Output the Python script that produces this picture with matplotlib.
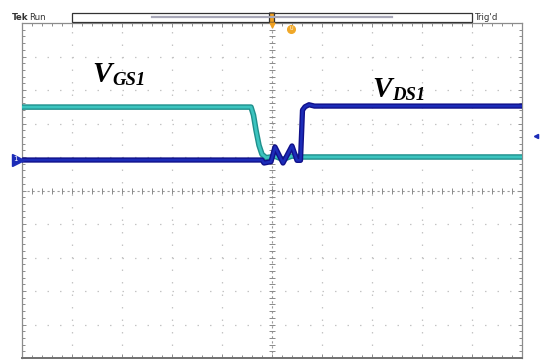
import numpy as np
import matplotlib
matplotlib.use("Agg")
import matplotlib.pyplot as plt
from matplotlib.patches import Rectangle, FancyBboxPatch

# ---- data (screen divisions: x 0..10, y 0..10) ----
vgs_x = [0.0, 4.58, 4.63, 4.68, 4.74, 4.80, 4.88, 5.06, 5.22, 5.40, 5.60, 5.70, 10.0]
vgs_y = [7.49, 7.49, 7.25, 6.80, 6.35, 6.08, 5.98, 6.02, 5.93, 6.03, 6.00, 6.00, 6.00]

vds_x = [0.0, 4.80, 4.84, 4.98, 5.06, 5.22, 5.40, 5.50, 5.57, 5.61, 5.66, 5.74, 5.85, 10.0]
vds_y = [5.91, 5.91, 5.82, 5.86, 6.30, 5.82, 6.33, 5.90, 5.90, 7.40, 7.50, 7.56, 7.52, 7.52]

label_gs = ("V", "GS1")
label_ds = ("V", "DS1")
label_gs_pos = (1.40, 8.24)
label_ds_pos = (7.00, 7.79)

top_left_text = ("Tek", "Run")
top_right_text = "Trig'd"

W, H = 541, 362
fig = plt.figure(figsize=(W / 100, H / 100), dpi=100)
fig.patch.set_facecolor("white")

x0, x1, ytop, ybot = 22, 522, 23, 358
ax = fig.add_axes([x0 / W, 1 - ybot / H, (x1 - x0) / W, (ybot - ytop) / H])
ax.set_xlim(0, 10)
ax.set_ylim(0, 10)
ax.set_facecolor("white")

# grid
for i in range(1, 10):
    if i == 5:
        continue
    ax.plot([i, i], [0, 10], color="#c4c4c4", lw=0.9, ls=(0, (1.2, 8.8)), zorder=1)
    ax.plot([0, 10], [i, i], color="#c4c4c4", lw=0.9, ls=(0, (1.2, 8.8)), zorder=1)
# center lines
ax.plot([5, 5], [0, 10], color="#9a9a9a", lw=0.8, ls=(0, (2, 2.5)), zorder=1)
ax.plot([0, 10], [5, 5], color="#9a9a9a", lw=0.8, ls=(0, (2, 2.5)), zorder=1)
tk = np.arange(0.2, 10, 0.2)
ax.plot(tk, np.full_like(tk, 5), ls="none", marker="|", ms=4, mew=0.7, color="#8a8a8a", zorder=1)
ax.plot(np.full_like(tk, 5), tk, ls="none", marker="_", ms=4, mew=0.7, color="#8a8a8a", zorder=1)

for s in ax.spines.values():
    s.set_color("#8c8c8c")
    s.set_linewidth(0.9)
ax.spines["bottom"].set_linewidth(1.4)
ax.spines["bottom"].set_color("#707070")
ax.set_xticks(np.arange(0, 10.01, 1))
ax.set_yticks(np.arange(0, 10.01, 1))
ax.set_xticks(np.arange(0, 10.01, 0.2), minor=True)
ax.set_yticks(np.arange(0, 10.01, 0.2), minor=True)
ax.tick_params(which="both", direction="in", top=True, right=True, labelbottom=False,
               labelleft=False, color="#8c8c8c", width=0.7)
ax.tick_params(which="major", length=3)
ax.tick_params(which="minor", length=2)

# traces
ax.plot(vgs_x, vgs_y, color="#1f8f8c", lw=4.0, solid_joinstyle="round", zorder=3)
ax.plot(vgs_x, vgs_y, color="#3cc4bf", lw=2.0, solid_joinstyle="round", zorder=3)
ax.plot(vds_x, vds_y, color="#10108a", lw=3.8, solid_joinstyle="round", zorder=4)
ax.plot(vds_x, vds_y, color="#1c2cb8", lw=1.8, solid_joinstyle="round", zorder=4)

# labels
def vlabel(pos, parts):
    ax.text(pos[0], pos[1], parts[0], fontsize=21, family="Liberation Serif",
            style="italic", weight="bold", color="black", zorder=5, va="baseline")
    ax.annotate(parts[1], xy=(pos[0], pos[1]), xytext=(14.4, -2.2), textcoords="offset points",
                fontsize=13.5, family="Liberation Serif", style="italic", weight="bold",
                va="baseline", zorder=5)

vlabel(label_gs_pos, label_gs)
vlabel(label_ds_pos, label_ds)

# channel marker and trigger level marker
ax.plot([-0.09], [vds_y[0]], marker=">", ms=8, color="#1c2cb8", clip_on=False, zorder=6)
ax.text(-0.13, vds_y[0] + 0.02, "1", fontsize=5, color="white", ha="center", va="center",
        clip_on=False, zorder=7)
ax.plot([10.28], [6.62], marker="<", ms=3, color="#1c2cb8", clip_on=False, zorder=6)

# top status bar
def fx(px):
    return px / W

def fy(py):
    return 1 - py / H

fig.text(fx(12), fy(19.5), top_left_text[0], fontsize=6.2, weight="bold", color="#333333",
         va="baseline", family="DejaVu Sans")
fig.text(fx(29), fy(19.5), top_left_text[1], fontsize=6.2, color="#333333", va="baseline",
         family="DejaVu Sans")
fig.text(fx(475), fy(19.5), top_right_text, fontsize=6.2, color="#333333", va="baseline",
         family="DejaVu Sans")
fig.patches.append(Rectangle((fx(72), fy(22)), fx(472) - fx(72), fy(13) - fy(22),
                             transform=fig.transFigure, fill=False, ec="#333333", lw=0.9))
fig.add_artist(plt.Line2D([fx(152), fx(392)], [fy(16.5), fy(16.5)], transform=fig.transFigure,
                          color="#a8a8b8", lw=1.6))
fig.patches.append(FancyBboxPatch((fx(269.5), fy(22.5)), fx(5), fy(13) - fy(22.5),
                                  boxstyle="round,pad=0.0", transform=fig.transFigure,
                                  fc="#f0a020", ec="#333333", lw=0.9))
fig.add_artist(plt.Line2D([fx(272)], [fy(25)], transform=fig.transFigure, marker="v",
                          ms=3.5, color="#f0a020", ls="none"))
fig.add_artist(plt.Line2D([fx(291)], [fy(29)], transform=fig.transFigure, marker="o",
                          ms=5.5, color="#f0a828", ls="none"))
fig.text(fx(291), fy(29), "U", fontsize=3.5, color="white", ha="center", va="center")

fig.savefig("out.png", dpi=100, facecolor="white")
